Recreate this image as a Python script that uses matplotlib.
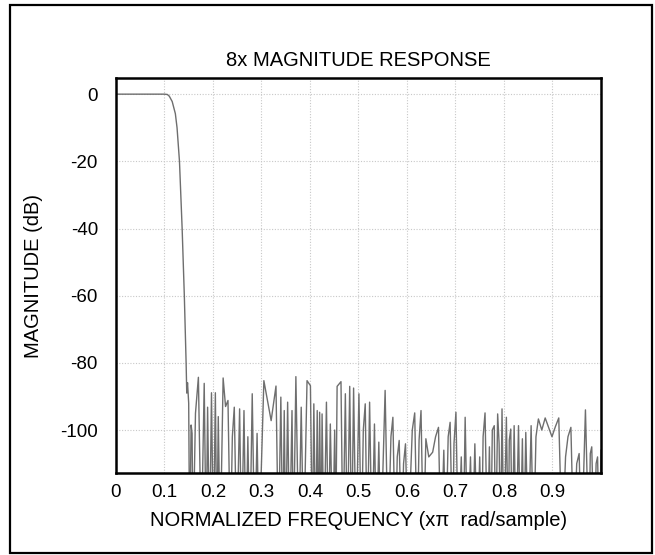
import matplotlib
matplotlib.use("Agg")
import matplotlib.pyplot as plt
from matplotlib.patches import Rectangle

plt.rcParams['font.family'] = ['Liberation Sans Narrow', 'Liberation Sans', 'DejaVu Sans']
plt.rcParams['axes.unicode_minus'] = False

# frequency response (normalized freq, dB); nulls go below the axis
freq = [0.000, 0.100, 0.106, 0.110, 0.116, 0.1225, 0.126, 0.131, 0.1365, 0.141,
        0.1447, 0.146, 0.1476, 0.150, 0.152, 0.155, 0.157, 0.159, 0.164, 0.170,
        0.176, 0.182, 0.186, 0.189, 0.193, 0.197, 0.201, 0.205, 0.208, 0.211,
        0.215, 0.221, 0.226, 0.231, 0.236, 0.240, 0.244, 0.249, 0.255, 0.259,
        0.264, 0.268, 0.272, 0.276, 0.281, 0.286, 0.291, 0.295, 0.305, 0.320,
        0.330, 0.335, 0.340, 0.344, 0.347, 0.350, 0.354, 0.358, 0.363, 0.366,
        0.371, 0.377, 0.382, 0.387, 0.394, 0.401, 0.405, 0.408, 0.412, 0.415,
        0.418, 0.420, 0.423, 0.425, 0.429, 0.434, 0.438, 0.442, 0.447, 0.451,
        0.453, 0.456, 0.464, 0.468, 0.473, 0.477, 0.482, 0.486, 0.490, 0.495,
        0.501, 0.506, 0.510, 0.514, 0.518, 0.523, 0.528, 0.533, 0.537, 0.542,
        0.546, 0.555, 0.561, 0.567, 0.571, 0.576, 0.580, 0.584, 0.589, 0.593,
        0.597, 0.602, 0.611, 0.616, 0.621, 0.625, 0.629, 0.634, 0.639, 0.645,
        0.653, 0.659, 0.665, 0.670, 0.676, 0.680, 0.685, 0.689, 0.694, 0.697,
        0.701, 0.706, 0.712, 0.716, 0.720, 0.725, 0.731, 0.735, 0.740, 0.745,
        0.750, 0.754, 0.757, 0.761, 0.766, 0.770, 0.773, 0.776, 0.780, 0.783,
        0.787, 0.790, 0.793, 0.796, 0.800, 0.805, 0.809, 0.811, 0.814, 0.817,
        0.821, 0.825, 0.830, 0.834, 0.838, 0.841, 0.845, 0.850, 0.856, 0.861,
        0.866, 0.871, 0.878, 0.885, 0.899, 0.906, 0.913, 0.920, 0.927, 0.932,
        0.938, 0.944, 0.950, 0.955, 0.960, 0.968, 0.975, 0.978, 0.981, 0.986,
        0.990, 0.993, 0.997, 1.000]
mag_db = [0, 0, -0.1, -0.6, -2.2, -5.8, -10, -20, -40, -60,
          -80, -89, -85.9, -92, -135, -98.5, -101, -135, -95, -84.3,
          -135, -86.1, -135, -93.2, -135, -88.9, -135, -88.9, -135, -96,
          -135, -84.5, -93, -91.2, -135, -102, -93.2, -135, -93.7, -135,
          -94.2, -135, -102, -135, -89.2, -135, -101, -135, -85.3, -97.2,
          -86.9, -135, -90.2, -135, -94.2, -135, -91.7, -135, -94.2, -135,
          -84.1, -135, -93.2, -135, -85.3, -86.8, -135, -92.2, -135, -94.2,
          -135, -94.7, -135, -95.2, -135, -91.7, -135, -98.2, -135, -100,
          -135, -87, -85.6, -135, -89.2, -135, -87, -135, -87.5, -135,
          -89.2, -135, -100, -92.2, -135, -91.7, -135, -98.2, -135, -103.6,
          -135, -88.2, -135, -102, -96.2, -135, -108, -103.1, -135, -110,
          -104.1, -135, -100, -94.9, -135, -103, -94.2, -135, -102.6, -108,
          -106.6, -102, -99.2, -135, -106, -135, -102, -97.7, -135, -104,
          -94.7, -135, -108, -135, -96.2, -135, -108, -135, -104.1, -135,
          -108, -135, -102, -94.9, -135, -105, -135, -100, -98.7, -135,
          -95.2, -104, -135, -93.7, -135, -96.2, -135, -103, -99.7, -135,
          -98.7, -135, -98.7, -135, -102.6, -135, -100.7, -135, -98.7, -135,
          -102, -96.7, -100, -96.4, -102, -99, -96.4, -135, -108, -102,
          -99.2, -135, -110, -107, -135, -94, -135, -107, -105, -135,
          -110, -108, -135, -106]

x_ticks = [0, 0.1, 0.2, 0.3, 0.4, 0.5, 0.6, 0.7, 0.8, 0.9]
x_ticklabels = ["0", "0.1", "0.2", "0.3", "0.4", "0.5", "0.6", "0.7", "0.8", "0.9"]
y_ticks = [0, -20, -40, -60, -80, -100]

fig = plt.figure(figsize=(6.55, 5.55), dpi=100)
ax = fig.add_axes([0.177, 0.1477, 0.7405, 0.7117])

ax.plot(freq, mag_db, color='#6e6e6e', lw=1.0)

ax.set_xlim(0, 1)
ax.set_ylim(-112.8, 4.8)
ax.set_xticks(x_ticks)
ax.set_xticklabels(x_ticklabels)
ax.set_yticks(y_ticks)
ax.tick_params(length=0, labelsize=13.5, pad=8)
ax.tick_params(axis='y', pad=13)
ax.grid(True, color='#c8c8c8', linestyle=(0, (1, 1.5)), lw=0.8)
for s in ax.spines.values():
    s.set_linewidth(1.8)

ax.set_title("8x MAGNITUDE RESPONSE", fontsize=14.5, pad=9)
ax.set_xlabel("NORMALIZED FREQUENCY (x\u03c0  rad/sample)", fontsize=14.5, labelpad=7)
ax.set_ylabel("MAGNITUDE (dB)", fontsize=14.5, labelpad=12)

# outer frame
fig.patches.append(Rectangle((10 / 655, 2 / 555), 642 / 655, 548 / 555,
                             transform=fig.transFigure, fill=False,
                             edgecolor='black', lw=1.6))

fig.savefig("out.png", dpi=100)
